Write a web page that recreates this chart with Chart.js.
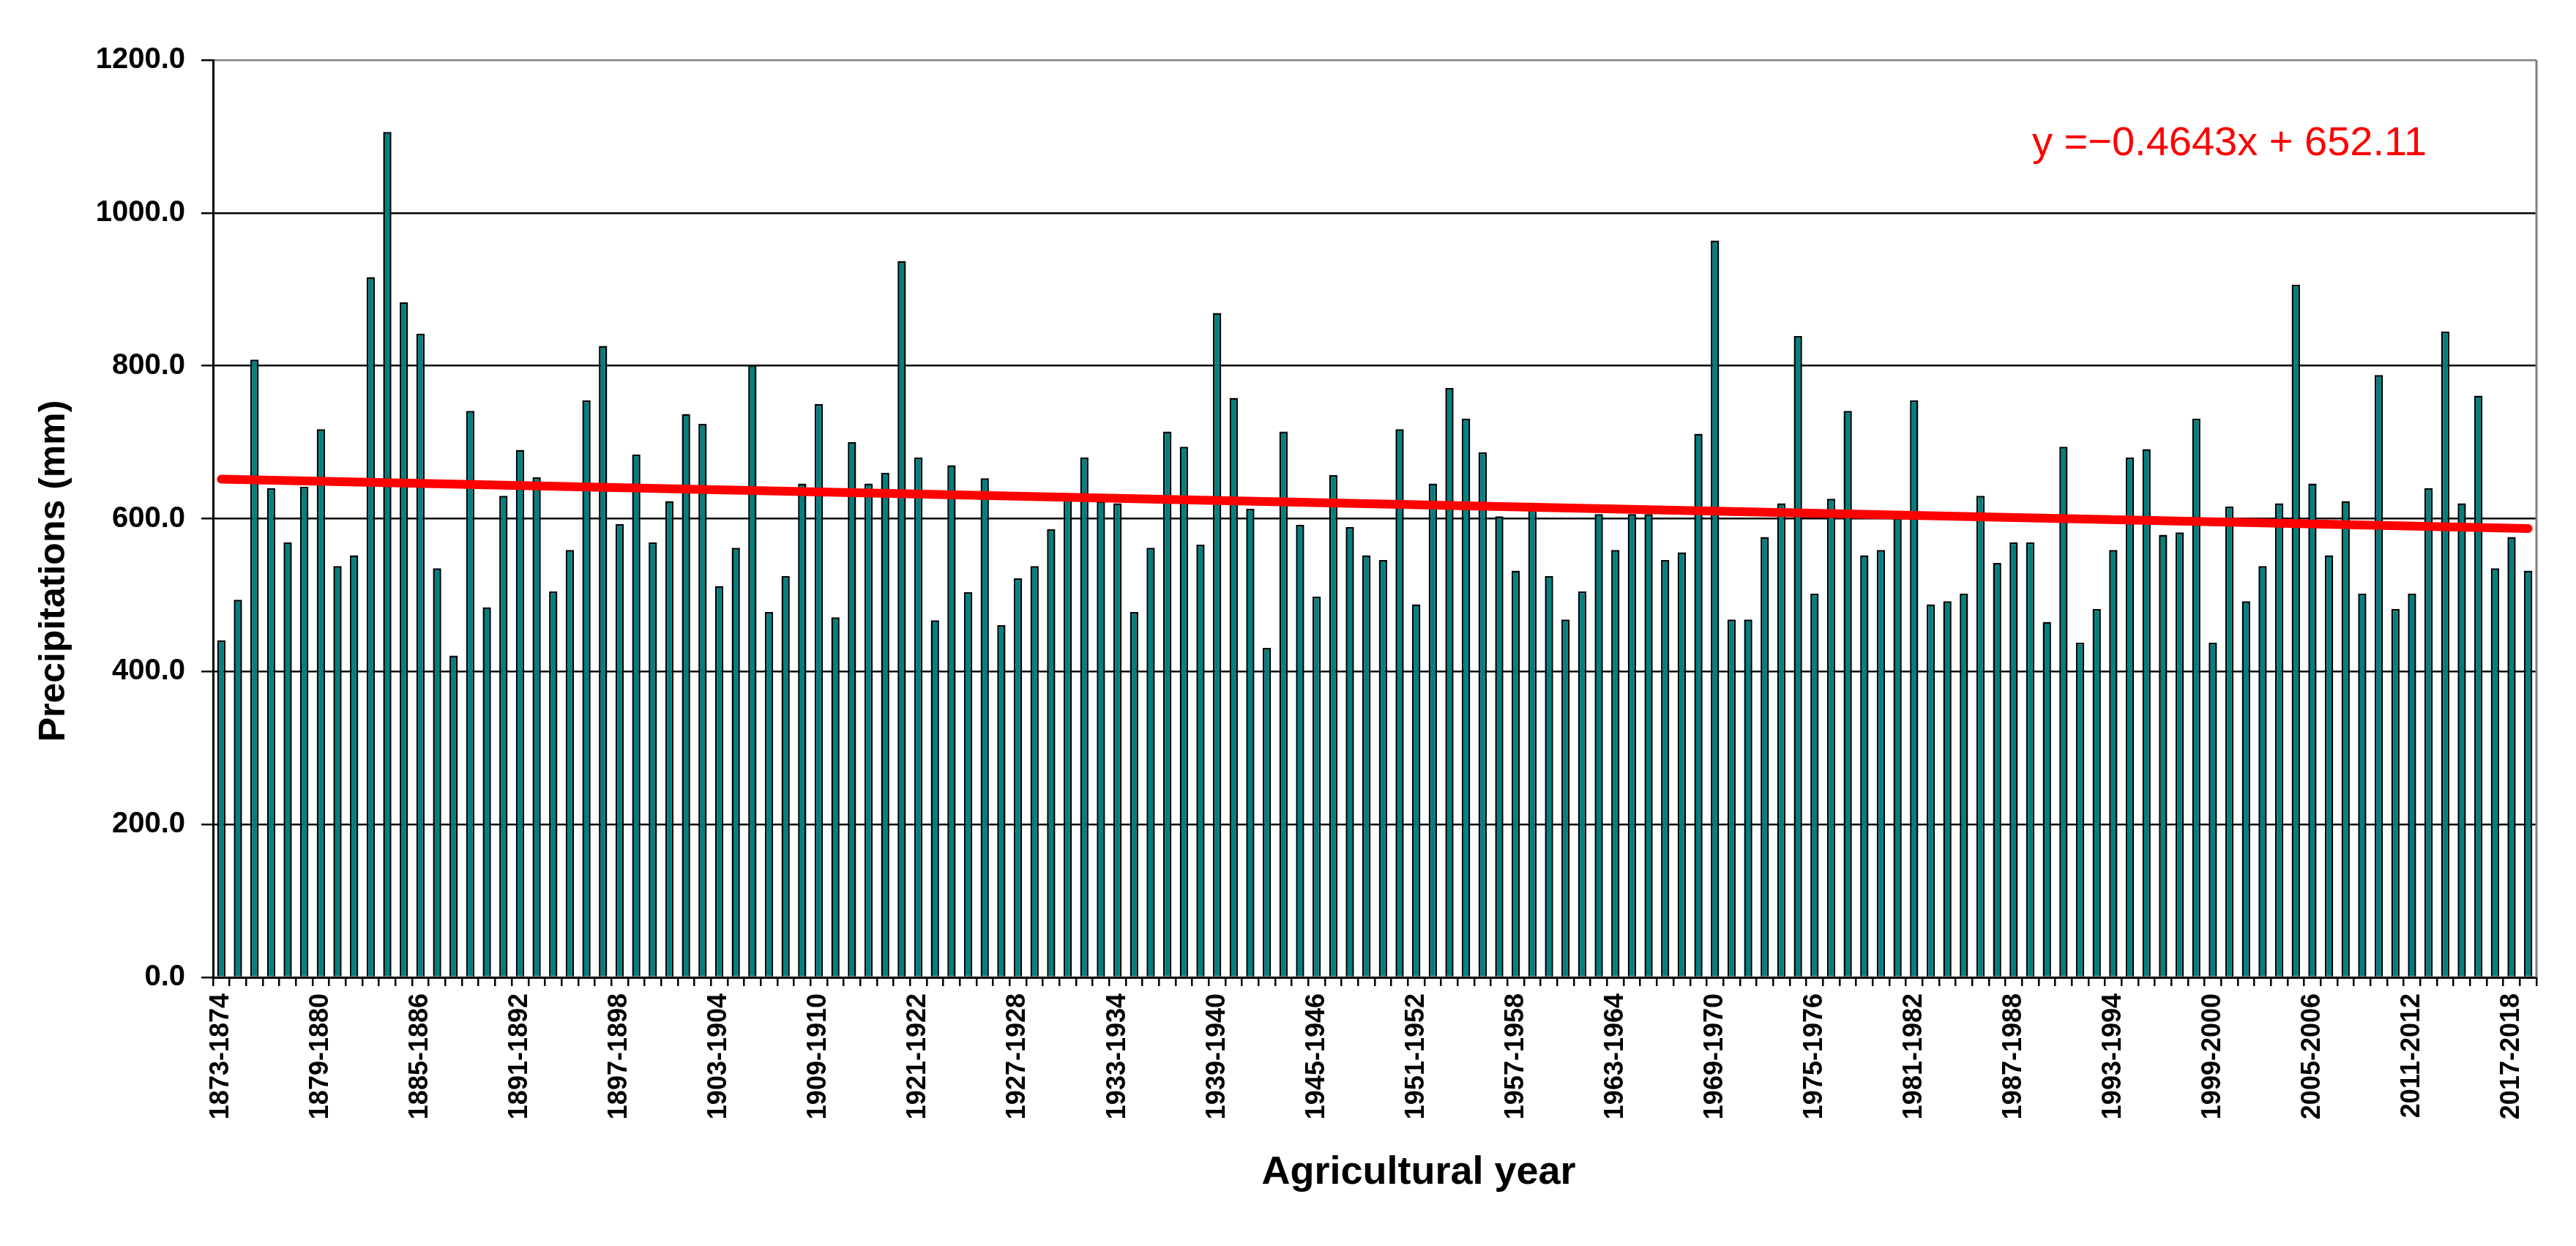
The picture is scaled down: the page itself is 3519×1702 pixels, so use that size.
<!DOCTYPE html>
<html>
<head>
<meta charset="utf-8">
<title>Precipitations by agricultural year</title>
<script src="https://cdn.jsdelivr.net/npm/chart.js@4.4.1/dist/chart.umd.min.js"></script>
<style>
    html, body { margin: 0; padding: 0; background: #ffffff; }
    #chart-container { width: 3519px; height: 1702px; }
</style>
</head>
<body>
<div id="chart-container">
    <canvas id="rain-chart" width="3519" height="1702"></canvas>
</div>
<script>
// years covered by the record (agricultural years start in autumn), 1915-1920 missing
const yearRanges = [[1873, 1914], [1921, 2018]];

// annual precipitation, mm, one value per agricultural year
const precipitation = [
    441, 494, 808, 640, 569, 642, 717, 538, 552, 916,
    1106, 883, 842, 535, 421, 741, 484, 630, 690, 654,
    505, 559, 755, 826, 593, 684, 569, 623, 737, 724,
    512, 562, 801, 478, 525, 646, 750, 471, 700, 646,
    660, 937, 680, 467, 670, 504, 653, 461, 522, 538,
    586, 625, 680, 623, 620, 478, 562, 714, 694, 566,
    869, 758, 613, 431, 714, 592, 498, 657, 589, 552,
    546, 717, 488, 646, 771, 731, 687, 603, 532, 611,
    525, 468, 505, 606, 559, 606, 606, 546, 556, 711,
    964, 468, 468, 576, 620, 839, 502, 626, 741, 552,
    559, 601, 755, 488, 492, 502, 630, 542, 569, 569,
    465, 694, 438, 482, 559, 680, 691, 579, 582, 731,
    438, 616, 492, 538, 620, 906, 646, 552, 623, 502,
    788, 482, 502, 640, 845, 620, 761, 535, 576, 532
];

// linear trend shown on the chart: end points of y = -0.4643x + 652.11
const trendStart = 651.65;
const trendEnd = 587.11;
const trendLabel = 'y =\u22120.4643x + 652.11';

const yTicks = [0, 200, 400, 600, 800, 1000, 1200];
const labelStep = 6;

/******************* categories *********************/

function buildCategories() {
    var labels = [];
    for (var range of yearRanges) {
        for (var year = range[0]; year <= range[1]; year++) {
            labels.push(year + '-' + (year + 1));
        }
    }
    return labels;
}

function buildTrend(count) {
    var data = new Array(count).fill(null);
    data[0] = trendStart;
    data[count - 1] = trendEnd;
    return data;
}

const categories = buildCategories();

/******************* extra texts *********************/

const textsPlugin = {
    id: 'chartTexts',
    afterDraw: function(chart) {
        var ctx = chart.ctx;
        var area = chart.chartArea;
        ctx.save();

        // right frame of the plot area
        ctx.strokeStyle = '#808080';
        ctx.lineWidth = 3;
        ctx.beginPath();
        ctx.moveTo(area.right, area.top);
        ctx.lineTo(area.right, area.bottom);
        ctx.stroke();

        // regression equation
        ctx.fillStyle = '#ff0000';
        ctx.font = '56px "Liberation Sans", Arial, sans-serif';
        ctx.textAlign = 'left';
        ctx.textBaseline = 'alphabetic';
        ctx.fillText(trendLabel, 2776, 212);

        // axis titles
        ctx.fillStyle = '#000000';
        ctx.font = 'bold 54px "Liberation Sans", Arial, sans-serif';
        ctx.textAlign = 'center';
        ctx.fillText('Agricultural year', 1938, 1617);

        ctx.font = 'bold 50px "Liberation Sans", Arial, sans-serif';
        ctx.translate(88, 780);
        ctx.rotate(-Math.PI / 2);
        ctx.fillText('Precipitations (mm)', 0, 0);
        ctx.restore();
    }
};

/******************* chart *********************/

function createChart() {
    var ctx = document.getElementById('rain-chart').getContext('2d');
    return new Chart(ctx, {
        data: {
            labels: categories,
            datasets: [{
                type: 'line',
                label: 'trend',
                data: buildTrend(categories.length),
                borderColor: '#ff0000',
                borderWidth: 12,
                borderCapStyle: 'round',
                pointRadius: 0,
                spanGaps: true,
                fill: false,
                order: 1
            }, {
                type: 'bar',
                label: 'Precipitations',
                data: precipitation,
                backgroundColor: '#008080',
                borderColor: '#000000',
                borderWidth: 2.5,
                categoryPercentage: 1.0,
                barPercentage: 0.5,
                order: 2
            }]
        },
        options: {
            responsive: false,
            animation: false,
            devicePixelRatio: 1,
            layout: { padding: { top: 82, right: 54, left: 0, bottom: 0 } },
            plugins: {
                legend: { display: false },
                tooltip: { enabled: false }
            },
            scales: {
                x: {
                    offset: true,
                    afterFit: function(scale) { scale.height = 367; },
                    border: { display: true, color: '#000000', width: 3 },
                    grid: {
                        offset: true,
                        drawOnChartArea: false,
                        drawTicks: true,
                        tickLength: 12,
                        color: '#000000',
                        lineWidth: 2.5
                    },
                    ticks: {
                        autoSkip: false,
                        minRotation: 90,
                        maxRotation: 90,
                        padding: 10,
                        color: '#000000',
                        font: { family: '"Liberation Sans", Arial, sans-serif', size: 36, weight: 'bold' },
                        callback: function(value, index) {
                            return index % labelStep === 0 ? this.getLabelForValue(value) : '';
                        }
                    }
                },
                y: {
                    min: yTicks[0],
                    max: yTicks[yTicks.length - 1],
                    afterFit: function(scale) { scale.width = 291; },
                    afterBuildTicks: function(scale) {
                        scale.ticks = yTicks.map((v) => ({ value: v }));
                    },
                    border: { display: true, color: '#000000', width: 3 },
                    grid: {
                        drawTicks: true,
                        tickLength: 16,
                        lineWidth: 2.5,
                        tickColor: '#000000',
                        color: (c) => (c.tick && c.tick.value === 1200 ? '#808080' : '#000000')
                    },
                    ticks: {
                        padding: 22,
                        color: '#000000',
                        font: { family: '"Liberation Sans", Arial, sans-serif', size: 40, weight: 'bold' },
                        callback: (v) => Number(v).toFixed(1)
                    }
                }
            }
        },
        plugins: [textsPlugin]
    });
}

createChart();
</script>
</body>
</html>
